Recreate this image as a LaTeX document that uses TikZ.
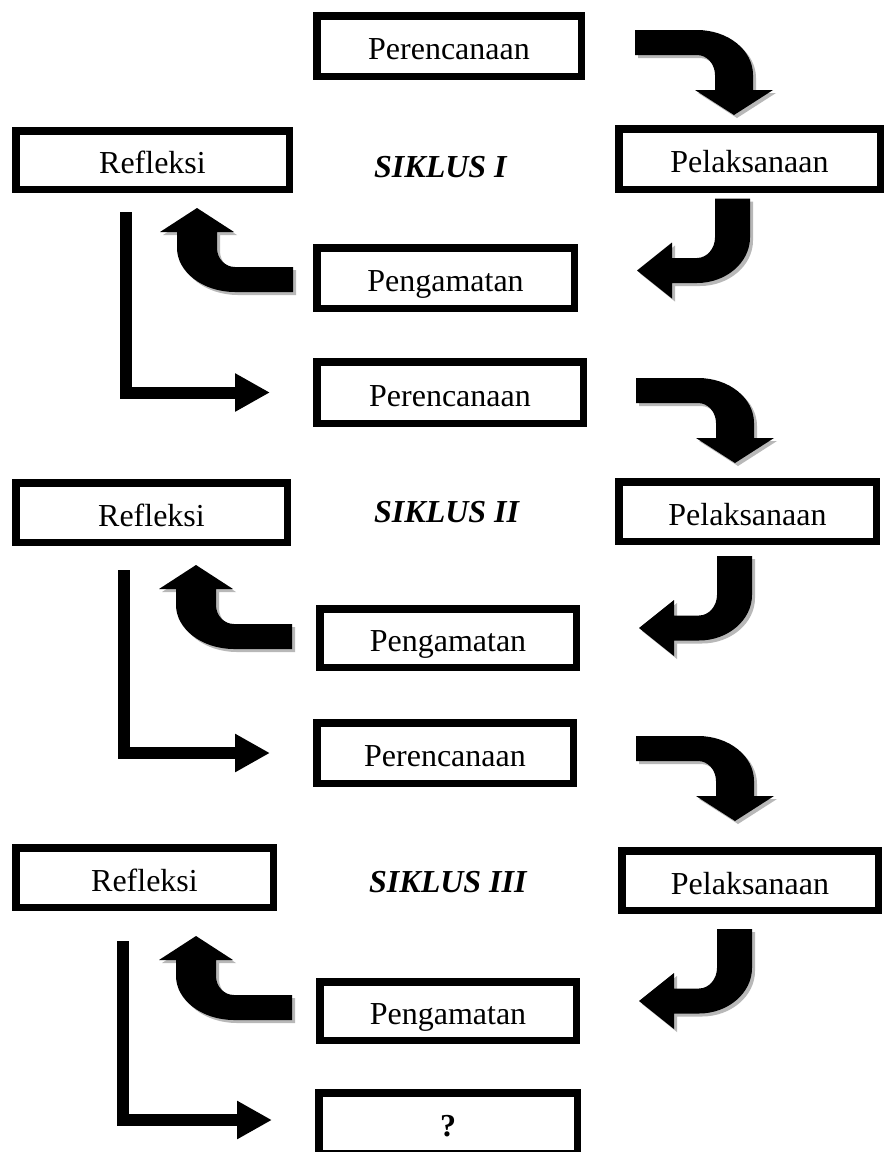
\documentclass[tikz,border=0pt]{standalone}
\usepackage{fontspec}
\setmainfont{Liberation Serif}
\usetikzlibrary{arrows.meta, shadows}

\begin{document}
\begin{tikzpicture}[x=1pt, y=-1pt,
    box/.style 2 args={draw, line width=7.5pt, inner sep=0pt, minimum width=#1, minimum height=#2,
      text height=27pt, text depth=0pt, font=\fontsize{32}{38}\selectfont},
    siklus/.style={anchor=base west, inner sep=0pt, font=\fontsize{32}{38}\selectfont\bfseries\itshape},
    blk/.style={fill=black, drop shadow={shadow xshift=3pt, shadow yshift=-3pt, fill=black!28, opacity=1}},
    lconn/.style={line width=12pt, line join=miter, -{Triangle[length=35pt, width=36pt]}},
    % block arrows, placed by their tip
    arrdown/.pic={
      \fill[blk] (-99,-85) -- (-37,-85) .. controls (-6,-85) and (19,-65) .. (19,-40)
        -- (19,-25) -- (39,-25) -- (0,0) -- (-39,-25) -- (-19,-25) -- (-19,-40)
        .. controls (-19,-51) and (-27,-60) .. (-37,-60) -- (-99,-60) -- cycle;
    },
    arrleft/.pic={
      \fill[blk] (78,-72) -- (113,-72) -- (113,-33) .. controls (113,-8) and (89,12.5) .. (60,12.5)
        -- (35,12.5) -- (35,28) -- (0,0) -- (35,-28) -- (35,-12.5) -- (60,-12.5)
        .. controls (70,-12.5) and (78,-22) .. (78,-33) -- cycle;
    },
    arrup/.pic={
      \fill[blk] (0,0) -- (37,24) -- (20,24) -- (20,40) .. controls (20,50.5) and (28,59) .. (38,59)
        -- (96,59) -- (96,84) -- (38,84) .. controls (6,84) and (-20,64) .. (-20,40)
        -- (-20,24) -- (-37,24) -- cycle;
    }]
  \path[fill=white, use as bounding box] (0,0) rectangle (886,1152);

  % siklus I
  \node[box={264.5pt}{60.5pt}] (per1) at (449,46) {Perencanaan};
  \node[box={261.5pt}{60.5pt}] (pel1) at (749.5,159) {Pelaksanaan};
  \node[box={273.5pt}{58.5pt}] (ref1) at (152.5,160) {Refleksi};
  \node[box={257.5pt}{60.5pt}] (pen1) at (445.5,278) {Pengamatan};
  \node[siklus] (sik1) at (374,177) {SIKLUS I};

  % siklus II
  \node[box={266.5pt}{61.5pt}] (per2) at (450,392.5) {Perencanaan};
  \node[box={257.5pt}{59.5pt}] (pel2) at (747.5,511.5) {Pelaksanaan};
  \node[box={271.5pt}{59.5pt}] (ref2) at (151.5,512.5) {Refleksi};
  \node[box={256.5pt}{58.5pt}] (pen2) at (448,638) {Pengamatan};
  \node[siklus] (sik2) at (374,522) {SIKLUS II};

  % siklus III
  \node[box={256.5pt}{60.5pt}] (per3) at (445,753) {Perencanaan};
  \node[box={256.5pt}{59.5pt}] (pel3) at (750,880.5) {Pelaksanaan};
  \node[box={257.5pt}{59.5pt}] (ref3) at (144.5,877.5) {Refleksi};
  \node[box={256.5pt}{58.5pt}] (pen3) at (448,1011) {Pengamatan};
  \node[siklus] (sik3) at (369,892) {SIKLUS III};

  \node[box={258.5pt}{60.5pt}, font=\fontsize{32}{38}\selectfont\bfseries] (next) at (448,1123) {?};

  % block arrows
  \pic at (734,115) {arrdown};
  \pic at (735,463) {arrdown};
  \pic at (735,821) {arrdown};
  \pic at (637,270.5) {arrleft};
  \pic at (639,628) {arrleft};
  \pic at (639,1001) {arrleft};
  \pic at (197,208) {arrup};
  \pic at (196,565) {arrup};
  \pic at (196,936) {arrup};

  % back to planning
  \coordinate (r1) at (126,212);
  \coordinate (r2) at (124,570);
  \coordinate (r3) at (123,941);
  \draw[lconn] (r1) |- ([xshift=-43pt]per2.west);
  \draw[lconn] (r2) |- ([xshift=-43pt]per3.west);
  \draw[lconn] (r3) |- ([xshift=-43pt, yshift=3pt]next.west);
\end{tikzpicture}
\end{document}
